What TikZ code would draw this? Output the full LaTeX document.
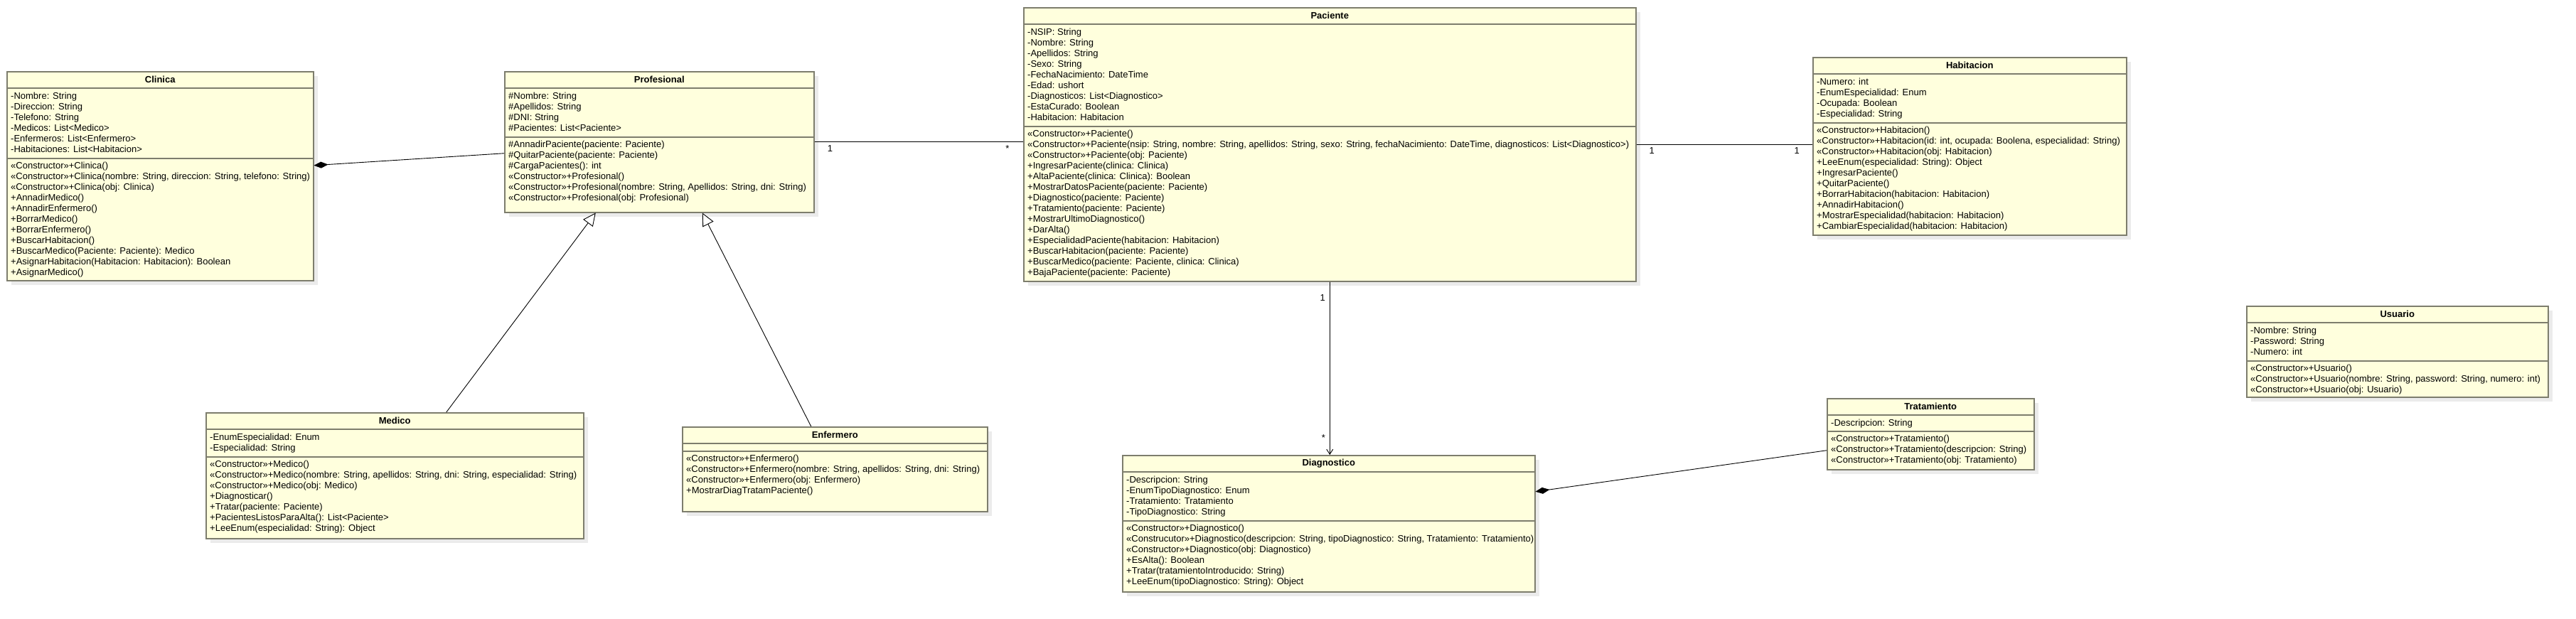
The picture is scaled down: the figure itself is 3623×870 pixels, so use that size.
\documentclass[tikz,border=0pt]{standalone}
\usepackage{fontspec}
\setmainfont{Liberation Sans}
\usepackage{tikz}
\usetikzlibrary{arrows.meta,positioning,shadows}
\definecolor{umlFill}{HTML}{FFFFDD}
\definecolor{umlLine}{HTML}{7D7D6D}
\definecolor{umlShadow}{HTML}{EBEBEB}
\tikzset{
  classbox/.style={
    draw=umlLine,
    line width=1.5pt,
    fill=umlFill,
    anchor=north west,
    inner sep=0pt,
    drop shadow={shadow xshift=6pt, shadow yshift=-6pt, fill=umlShadow, opacity=1}
  },
  classtitle/.style={
    anchor=north,
    inner sep=0pt,
    minimum height=24pt,
    font=\fontsize{13pt}{15pt}\selectfont\bfseries
  },
  members/.style={
    anchor=north west,
    inner sep=0pt,
    align=left,
    font=\fontsize{13pt}{15pt}\selectfont
  },
  sepline/.style={draw=umlLine, line width=1.5pt},
  assoc/.style={draw=black, line width=0.9pt},
  compos/.style={assoc, {Diamond[length=20pt, width=9pt]}-},
  navig/.style={assoc, -{Straight Barb[length=7pt, width=9pt]}},
  inherit/.style={assoc, -{Triangle[open, fill=white, length=18pt, width=17pt]}},
  mult/.style={inner sep=0pt, font=\fontsize{13pt}{15pt}\selectfont}
}

\begin{document}
\begin{tikzpicture}[x=1pt, y=-1pt]
  \useasboundingbox (0,0) rectangle (3623,870);

  \node[classbox, minimum width=431pt, minimum height=294pt] (clinica) at (9,100) {};
  \node[classtitle] (clinicaName) at (clinica.north) {Clinica};
  \draw[sepline] ([yshift=-24pt]clinica.north west) -- ([yshift=-24pt]clinica.north east);
  \draw[sepline] ([yshift=-123pt]clinica.north west) -- ([yshift=-123pt]clinica.north east);
  \node[members] (clinicaAttr) at ([shift={(6pt,-30pt)}]clinica.north west) {-Nombre: String\\-Direccion: String\\-Telefono: String\\-Medicos: List<Medico>\\-Enfermeros: List<Enfermero>\\-Habitaciones: List<Habitacion>};
  \node[members] (clinicaOps) at ([shift={(6pt,-128pt)}]clinica.north west) {«Constructor»+Clinica()\\«Constructor»+Clinica(nombre: String, direccion: String, telefono: String)\\«Constructor»+Clinica(obj: Clinica)\\+AnnadirMedico()\\+AnnadirEnfermero()\\+BorrarMedico()\\+BorrarEnfermero()\\+BuscarHabitacion()\\+BuscarMedico(Paciente: Paciente): Medico\\+AsignarHabitacion(Habitacion: Habitacion): Boolean\\+AsignarMedico()};

  \node[classbox, minimum width=435pt, minimum height=198pt] (profesional) at (709,100) {};
  \node[classtitle] (profesionalName) at (profesional.north) {Profesional};
  \draw[sepline] ([yshift=-24pt]profesional.north west) -- ([yshift=-24pt]profesional.north east);
  \draw[sepline] ([yshift=-93pt]profesional.north west) -- ([yshift=-93pt]profesional.north east);
  \node[members] (profesionalAttr) at ([shift={(6pt,-30pt)}]profesional.north west) {\#Nombre: String\\\#Apellidos: String\\\#DNI: String\\\#Pacientes: List<Paciente>};
  \node[members] (profesionalOps) at ([shift={(6pt,-98pt)}]profesional.north west) {\#AnnadirPaciente(paciente: Paciente)\\\#QuitarPaciente(paciente: Paciente)\\\#CargaPacientes(): int\\«Constructor»+Profesional()\\«Constructor»+Profesional(nombre: String, Apellidos: String, dni: String)\\«Constructor»+Profesional(obj: Profesional)};

  \node[classbox, minimum width=861pt, minimum height=385pt] (paciente) at (1439,10) {};
  \node[classtitle] (pacienteName) at (paciente.north) {Paciente};
  \draw[sepline] ([yshift=-24pt]paciente.north west) -- ([yshift=-24pt]paciente.north east);
  \draw[sepline] ([yshift=-168pt]paciente.north west) -- ([yshift=-168pt]paciente.north east);
  \node[members] (pacienteAttr) at ([shift={(6pt,-30pt)}]paciente.north west) {-NSIP: String\\-Nombre: String\\-Apellidos: String\\-Sexo: String\\-FechaNacimiento: DateTime\\-Edad: ushort\\-Diagnosticos: List<Diagnostico>\\-EstaCurado: Boolean\\-Habitacion: Habitacion};
  \node[members] (pacienteOps) at ([shift={(6pt,-173pt)}]paciente.north west) {«Constructor»+Paciente()\\«Constructor»+Paciente(nsip: String, nombre: String, apellidos: String, sexo: String, fechaNacimiento: DateTime, diagnosticos: List<Diagnostico>)\\«Constructor»+Paciente(obj: Paciente)\\+IngresarPaciente(clinica: Clinica)\\+AltaPaciente(clinica: Clinica): Boolean\\+MostrarDatosPaciente(paciente: Paciente)\\+Diagnostico(paciente: Paciente)\\+Tratamiento(paciente: Paciente)\\+MostrarUltimoDiagnostico()\\+DarAlta()\\+EspecialidadPaciente(habitacion: Habitacion)\\+BuscarHabitacion(paciente: Paciente)\\+BuscarMedico(paciente: Paciente, clinica: Clinica)\\+BajaPaciente(paciente: Paciente)};

  \node[classbox, minimum width=441pt, minimum height=250pt] (habitacion) at (2549,80) {};
  \node[classtitle] (habitacionName) at (habitacion.north) {Habitacion};
  \draw[sepline] ([yshift=-24pt]habitacion.north west) -- ([yshift=-24pt]habitacion.north east);
  \draw[sepline] ([yshift=-93pt]habitacion.north west) -- ([yshift=-93pt]habitacion.north east);
  \node[members] (habitacionAttr) at ([shift={(6pt,-30pt)}]habitacion.north west) {-Numero: int\\-EnumEspecialidad: Enum\\-Ocupada: Boolean\\-Especialidad: String};
  \node[members] (habitacionOps) at ([shift={(6pt,-98pt)}]habitacion.north west) {«Constructor»+Habitacion()\\«Constructor»+Habitacion(id: int, ocupada: Boolena, especialidad: String)\\«Constructor»+Habitacion(obj: Habitacion)\\+LeeEnum(especialidad: String): Object\\+IngresarPaciente()\\+QuitarPaciente()\\+BorrarHabitacion(habitacion: Habitacion)\\+AnnadirHabitacion()\\+MostrarEspecialidad(habitacion: Habitacion)\\+CambiarEspecialidad(habitacion: Habitacion)};

  \node[classbox, minimum width=424pt, minimum height=128pt] (usuario) at (3159,430) {};
  \node[classtitle] (usuarioName) at (usuario.north) {Usuario};
  \draw[sepline] ([yshift=-24pt]usuario.north west) -- ([yshift=-24pt]usuario.north east);
  \draw[sepline] ([yshift=-78pt]usuario.north west) -- ([yshift=-78pt]usuario.north east);
  \node[members] (usuarioAttr) at ([shift={(6pt,-30pt)}]usuario.north west) {-Nombre: String\\-Password: String\\-Numero: int};
  \node[members] (usuarioOps) at ([shift={(6pt,-83pt)}]usuario.north west) {«Constructor»+Usuario()\\«Constructor»+Usuario(nombre: String, password: String, numero: int)\\«Constructor»+Usuario(obj: Usuario)};

  \node[classbox, minimum width=531pt, minimum height=177pt] (medico) at (289,580) {};
  \node[classtitle] (medicoName) at (medico.north) {Medico};
  \draw[sepline] ([yshift=-24pt]medico.north west) -- ([yshift=-24pt]medico.north east);
  \draw[sepline] ([yshift=-63pt]medico.north west) -- ([yshift=-63pt]medico.north east);
  \node[members] (medicoAttr) at ([shift={(6pt,-30pt)}]medico.north west) {-EnumEspecialidad: Enum\\-Especialidad: String};
  \node[members] (medicoOps) at ([shift={(6pt,-68pt)}]medico.north west) {«Constructor»+Medico()\\«Constructor»+Medico(nombre: String, apellidos: String, dni: String, especialidad: String)\\«Constructor»+Medico(obj: Medico)\\+Diagnosticar()\\+Tratar(paciente: Paciente)\\+PacientesListosParaAlta(): List<Paciente>\\+LeeEnum(especialidad: String): Object};

  \node[classbox, minimum width=429pt, minimum height=119pt] (enfermero) at (959,600) {};
  \node[classtitle] (enfermeroName) at (enfermero.north) {Enfermero};
  \draw[sepline] ([yshift=-24pt]enfermero.north west) -- ([yshift=-24pt]enfermero.north east);
  \draw[sepline] ([yshift=-35pt]enfermero.north west) -- ([yshift=-35pt]enfermero.north east);
  \node[members] (enfermeroOps) at ([shift={(6pt,-40pt)}]enfermero.north west) {«Constructor»+Enfermero()\\«Constructor»+Enfermero(nombre: String, apellidos: String, dni: String)\\«Constructor»+Enfermero(obj: Enfermero)\\+MostrarDiagTratamPaciente()};

  \node[classbox, minimum width=580pt, minimum height=192pt] (diagnostico) at (1578,640) {};
  \node[classtitle] (diagnosticoName) at (diagnostico.north) {Diagnostico};
  \draw[sepline] ([yshift=-24pt]diagnostico.north west) -- ([yshift=-24pt]diagnostico.north east);
  \draw[sepline] ([yshift=-93pt]diagnostico.north west) -- ([yshift=-93pt]diagnostico.north east);
  \node[members] (diagnosticoAttr) at ([shift={(6pt,-30pt)}]diagnostico.north west) {-Descripcion: String\\-EnumTipoDiagnostico: Enum\\-Tratamiento: Tratamiento\\-TipoDiagnostico: String};
  \node[members] (diagnosticoOps) at ([shift={(6pt,-98pt)}]diagnostico.north west) {«Constructor»+Diagnostico()\\«Construcutor»+Diagnostico(descripcion: String, tipoDiagnostico: String, Tratamiento: Tratamiento)\\«Constructor»+Diagnostico(obj: Diagnostico)\\+EsAlta(): Boolean\\+Tratar(tratamientoIntroducido: String)\\+LeeEnum(tipoDiagnostico: String): Object};

  \node[classbox, minimum width=291pt, minimum height=100pt] (tratamiento) at (2569,560) {};
  \node[classtitle] (tratamientoName) at (tratamiento.north) {Tratamiento};
  \draw[sepline] ([yshift=-24pt]tratamiento.north west) -- ([yshift=-24pt]tratamiento.north east);
  \draw[sepline] ([yshift=-47pt]tratamiento.north west) -- ([yshift=-47pt]tratamiento.north east);
  \node[members] (tratamientoAttr) at ([shift={(6pt,-30pt)}]tratamiento.north west) {-Descripcion: String};
  \node[members] (tratamientoOps) at ([shift={(6pt,-52pt)}]tratamiento.north west) {«Constructor»+Tratamiento()\\«Constructor»+Tratamiento(descripcion: String)\\«Constructor»+Tratamiento(obj: Tratamiento)};

  \draw[compos] ([yshift=15pt]clinica.east) -- ([yshift=-16pt]profesional.west);
  \draw[assoc] (profesional.east) -- (profesional.east -| paciente.west)
    node[mult, pos=0.075, below=4pt] {1}
    node[mult, pos=0.925, below=4pt] {*};
  \draw[assoc] (paciente.east) -- (paciente.east -| habitacion.west)
    node[mult, pos=0.088, below=4pt] {1}
    node[mult, pos=0.912, below=4pt] {1};
  \draw[navig] (paciente.south) -- (paciente.south |- diagnostico.north)
    node[mult, pos=0.094, left=6pt] {1}
    node[mult, pos=0.9, left=6pt] {*};
  \draw[compos] ([yshift=45pt]diagnostico.east) -- ([yshift=-23pt]tratamiento.west);
  \draw[inherit] ([xshift=72.5pt]medico.north) -- ([xshift=-89.5pt]profesional.south);
  \draw[inherit] ([xshift=-33.5pt]enfermero.north) -- ([xshift=60.5pt]profesional.south);
\end{tikzpicture}
\end{document}
